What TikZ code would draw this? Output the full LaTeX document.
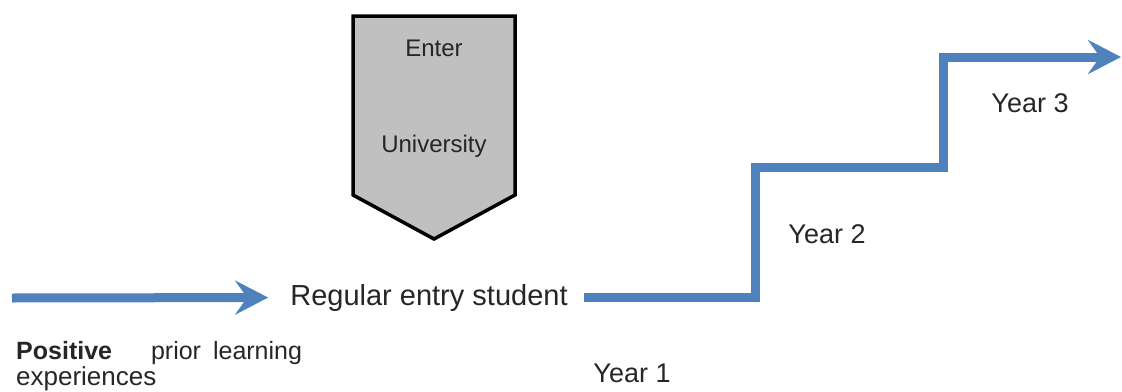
\documentclass[tikz,border=0pt]{standalone}
\usepackage{fontspec}
\setmainfont{Liberation Sans}
\usepackage{xcolor}
\usetikzlibrary{arrows.meta}
\definecolor{stepblue}{HTML}{4F81BD}
\definecolor{boxgray}{HTML}{C0C0C0}

\begin{document}
\begin{tikzpicture}[
  x=1pt, y=-1pt,
  lbl/.style={inner sep=0pt, text=black!85, font=\fontsize{27}{32}\selectfont},
  small/.style={lbl, font=\fontsize{24}{28}\selectfont},
  note/.style={lbl, font=\fontsize{25}{30}\selectfont},
  unibox/.style={draw=black, line width=3.5pt, fill=boxgray, line join=miter},
  arr/.style={draw=stepblue, line width=9pt, line join=miter, -{Stealth[length=33pt, width=34pt, inset=12pt]}}
]
\useasboundingbox (0,0) rectangle (1122,391);

% entry shape
\draw[unibox] (353,16) -- (515,16) -- (515,195) -- (434,239) -- (353,195) -- cycle;
\node[small, anchor=base] (enter) at (434,56) {Enter};
\node[small, anchor=base] (univ) at (434,152) {University};

% student and prior learning
\node[lbl, anchor=base, font=\fontsize{29}{34}\selectfont] (student) at (429,305) {Regular entry student};
\node[note, anchor=base west] (prior) at (16,359) {\textbf{Positive}\hspace{39pt}prior\hspace{12pt}learning};
\node[note, anchor=base west, font=\fontsize{26}{30}\selectfont] (exper) at (16,385) {experiences};

% years
\node[lbl, anchor=base] (year1) at (632,382) {Year 1};
\node[lbl, anchor=base] (year2) at (827,243) {Year 2};
\node[lbl, anchor=base] (year3) at (1030,112) {Year 3};

\coordinate (start) at (12,298);
\coordinate (rise1) at (755,167);
\coordinate (rise2) at (943,57);
\coordinate (finish) at (1121,57);

\draw[arr, shorten >=22pt] (start) -- (student.west);
\draw[arr, shorten <=16pt] (student.east) -| (rise1) -| (rise2) -- (finish);
\end{tikzpicture}
\end{document}
